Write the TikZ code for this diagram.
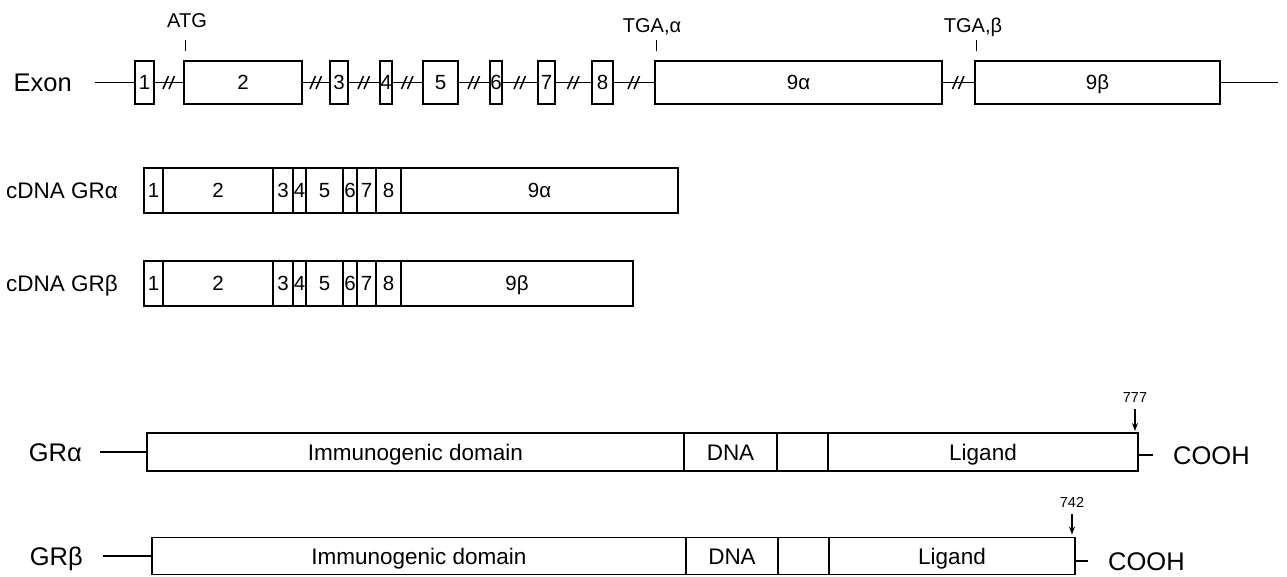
\documentclass[tikz,border=0pt]{standalone}
\usepackage{fontspec}
\setmainfont{Liberation Sans}
\usetikzlibrary{positioning,arrows.meta}

\tikzset{
  ln/.style={line width=1.9pt},
  tick/.style={line width=1.4pt},
  arr/.style={line width=1.4pt, -{Stealth[length=8pt,width=6pt]}},
  exbox/.style={draw, line width=1.9pt, minimum height=43pt, inner sep=0pt, outer sep=0pt,
    font=\fontsize{20.5}{24}\selectfont, text height=14.5pt, text depth=0pt},
  seg/.style={draw, line width=1.9pt, minimum height=45pt, inner sep=0pt, outer sep=0pt,
    font=\fontsize{20.5}{24}\selectfont, text height=14.5pt, text depth=0pt},
  dom/.style={draw, line width=1.9pt, minimum height=38pt, inner sep=0pt, outer sep=0pt,
    font=\fontsize{22.5}{27}\selectfont, text height=16pt, text depth=0pt},
  biglabel/.style={font=\fontsize{25.5}{30}\selectfont, inner sep=0pt, text height=18pt, text depth=0pt},
  rowlabel/.style={font=\fontsize{22.5}{27}\selectfont, inner sep=0pt, text height=16pt, text depth=0pt},
  site/.style={font=\fontsize{20}{24}\selectfont, inner sep=0pt, text height=14pt, text depth=0pt},
  aa/.style={font=\fontsize{14.5}{17}\selectfont, inner sep=0pt, text height=10.4pt, text depth=0pt},
  brk/.style={inner sep=0pt, minimum width=14pt, minimum height=13pt, path picture={
    \draw[line width=1.5pt]
      ([xshift=1pt]path picture bounding box.south west) -- ([xshift=6.5pt]path picture bounding box.north west)
      ([xshift=7pt]path picture bounding box.south west) -- ([xshift=12.5pt]path picture bounding box.north west);}}
}

\begin{document}
\begin{tikzpicture}[x=1pt, y=-1pt]
    \useasboundingbox (0,0) rectangle (1287,576);

    % Exon row
    \node[biglabel, anchor=east] (exon) at (72,82.5) {Exon};
    \coordinate (xs) at (95,82.5);
    \coordinate (xe) at (1278,82.5);
    \node[exbox, minimum width=19pt] (x1) at (144.5,82.5) {1};
    \node[exbox, minimum width=118pt] (x2) at (243,82.5) {2};
    \node[exbox, minimum width=18pt] (x3) at (339,82.5) {3};
    \node[exbox, minimum width=12pt] (x4) at (386,82.5) {4};
    \node[exbox, minimum width=35pt] (x5) at (440.5,82.5) {5};
    \node[exbox, minimum width=12pt] (x6) at (496,82.5) {6};
    \node[exbox, minimum width=17pt] (x7) at (546.5,82.5) {7};
    \node[exbox, minimum width=21pt] (x8) at (602.5,82.5) {8};
    \node[exbox, minimum width=287pt] (x9a) at (798.5,82.5) {9α};
    \node[exbox, minimum width=245pt] (x9b) at (1097.5,82.5) {9β};

    % Introns
    \draw[ln] (xs) -- (x1);
    \draw[ln] (x1) -- node[brk] (h1) {} (x2);
    \draw[ln] (x2) -- node[brk] (h2) {} (x3);
    \draw[ln] (x3) -- node[brk] (h3) {} (x4);
    \draw[ln] (x4) -- node[brk] (h4) {} (x5);
    \draw[ln] (x5) -- node[brk] (h5) {} (x6);
    \draw[ln] (x6) -- node[brk] (h6) {} (x7);
    \draw[ln] (x7) -- node[brk] (h7) {} (x8);
    \draw[ln] (x8) -- node[brk] (h8) {} (x9a);
    \draw[ln] (x9a) -- node[brk] (h9) {} (x9b);
    \draw[ln] (x9b) -- (xe);

    % Start and stop codons
    \node[site] (atg) at (187,20.5) {ATG};
    \draw[tick] ([xshift=1.5pt, yshift=10pt]x2.north west) -- ([xshift=1.5pt, yshift=21pt]x2.north west);
    \node[site] (tgaa) at (652,25) {TGA,α};
    \draw[tick] ([xshift=1.5pt, yshift=10pt]x9a.north west) -- ([xshift=1.5pt, yshift=21pt]x9a.north west);
    \node[site] (tgab) at (973,25) {TGA,β};
    \draw[tick] ([xshift=1.5pt, yshift=10pt]x9b.north west) -- ([xshift=1.5pt, yshift=21pt]x9b.north west);

    % cDNA GRalpha
    \node[rowlabel, anchor=east] (lca) at (118,190.5) {cDNA GRα};
    \node[seg, minimum width=19pt, anchor=west] (ca1) at (144,190.5) {1};
    \node[seg, minimum width=110pt, right=0pt of ca1] (ca2) {2};
    \node[seg, minimum width=20pt, right=0pt of ca2] (ca3) {3};
    \node[seg, minimum width=13pt, right=0pt of ca3] (ca4) {4};
    \node[seg, minimum width=37pt, right=0pt of ca4] (ca5) {5};
    \node[seg, minimum width=14pt, right=0pt of ca5] (ca6) {6};
    \node[seg, minimum width=19pt, right=0pt of ca6] (ca7) {7};
    \node[seg, minimum width=25pt, right=0pt of ca7] (ca8) {8};
    \node[seg, minimum width=277pt, right=0pt of ca8] (ca9) {9α};

    % cDNA GRbeta
    \node[rowlabel, anchor=east] (lcb) at (118,283.5) {cDNA GRβ};
    \node[seg, minimum width=19pt, anchor=west] (cb1) at (144,283.5) {1};
    \node[seg, minimum width=110pt, right=0pt of cb1] (cb2) {2};
    \node[seg, minimum width=20pt, right=0pt of cb2] (cb3) {3};
    \node[seg, minimum width=13pt, right=0pt of cb3] (cb4) {4};
    \node[seg, minimum width=37pt, right=0pt of cb4] (cb5) {5};
    \node[seg, minimum width=14pt, right=0pt of cb5] (cb6) {6};
    \node[seg, minimum width=19pt, right=0pt of cb6] (cb7) {7};
    \node[seg, minimum width=25pt, right=0pt of cb7] (cb8) {8};
    \node[seg, minimum width=232pt, right=0pt of cb8] (cb9) {9β};

    % Protein GRalpha
    \node[biglabel, anchor=east] (ga) at (82,452) {GRα};
    \node[dom, minimum width=537pt, anchor=west] (pa1) at (147,452) {Immunogenic domain};
    \node[dom, minimum width=93pt, right=0pt of pa1] (pa2) {DNA};
    \node[dom, minimum width=51pt, right=0pt of pa2] (pa3) {};
    \node[dom, minimum width=310pt, right=0pt of pa3] (pa4) {Ligand};
    \draw[ln, shorten <=18pt] (ga.east) -- (pa1.west);
    \node[biglabel, anchor=west] (ca) at (1173,455) {COOH};
    \draw[ln, shorten >=20pt] (pa4.east |- ca.west) -- (ca.west);
    \node[aa] (n777) at (1135,397) {777};
    \draw[arr, shorten <=7pt, shorten >=2pt] (n777.south) -- (n777.south |- pa4.north);

    % Protein GRbeta
    \node[biglabel, anchor=east] (gb) at (83,556) {GRβ};
    \node[dom, minimum width=534pt, minimum height=37pt, anchor=west] (pb1) at (152,556) {Immunogenic domain};
    \node[dom, minimum width=92pt, minimum height=37pt, right=0pt of pb1] (pb2) {DNA};
    \node[dom, minimum width=51pt, minimum height=37pt, right=0pt of pb2] (pb3) {};
    \node[dom, minimum width=246pt, minimum height=37pt, right=0pt of pb3] (pb4) {Ligand};
    \draw[ln, shorten <=20pt] (gb.east) -- (pb1.west);
    \node[biglabel, anchor=west] (cb) at (1108,561) {COOH};
    \draw[ln, shorten >=20pt] (pb4.east |- cb.west) -- (cb.west);
    \node[aa] (n742) at (1072,502) {742};
    \draw[arr, shorten <=7pt, shorten >=3pt] (n742.south) -- (n742.south |- pb4.north);
\end{tikzpicture}
\end{document}
